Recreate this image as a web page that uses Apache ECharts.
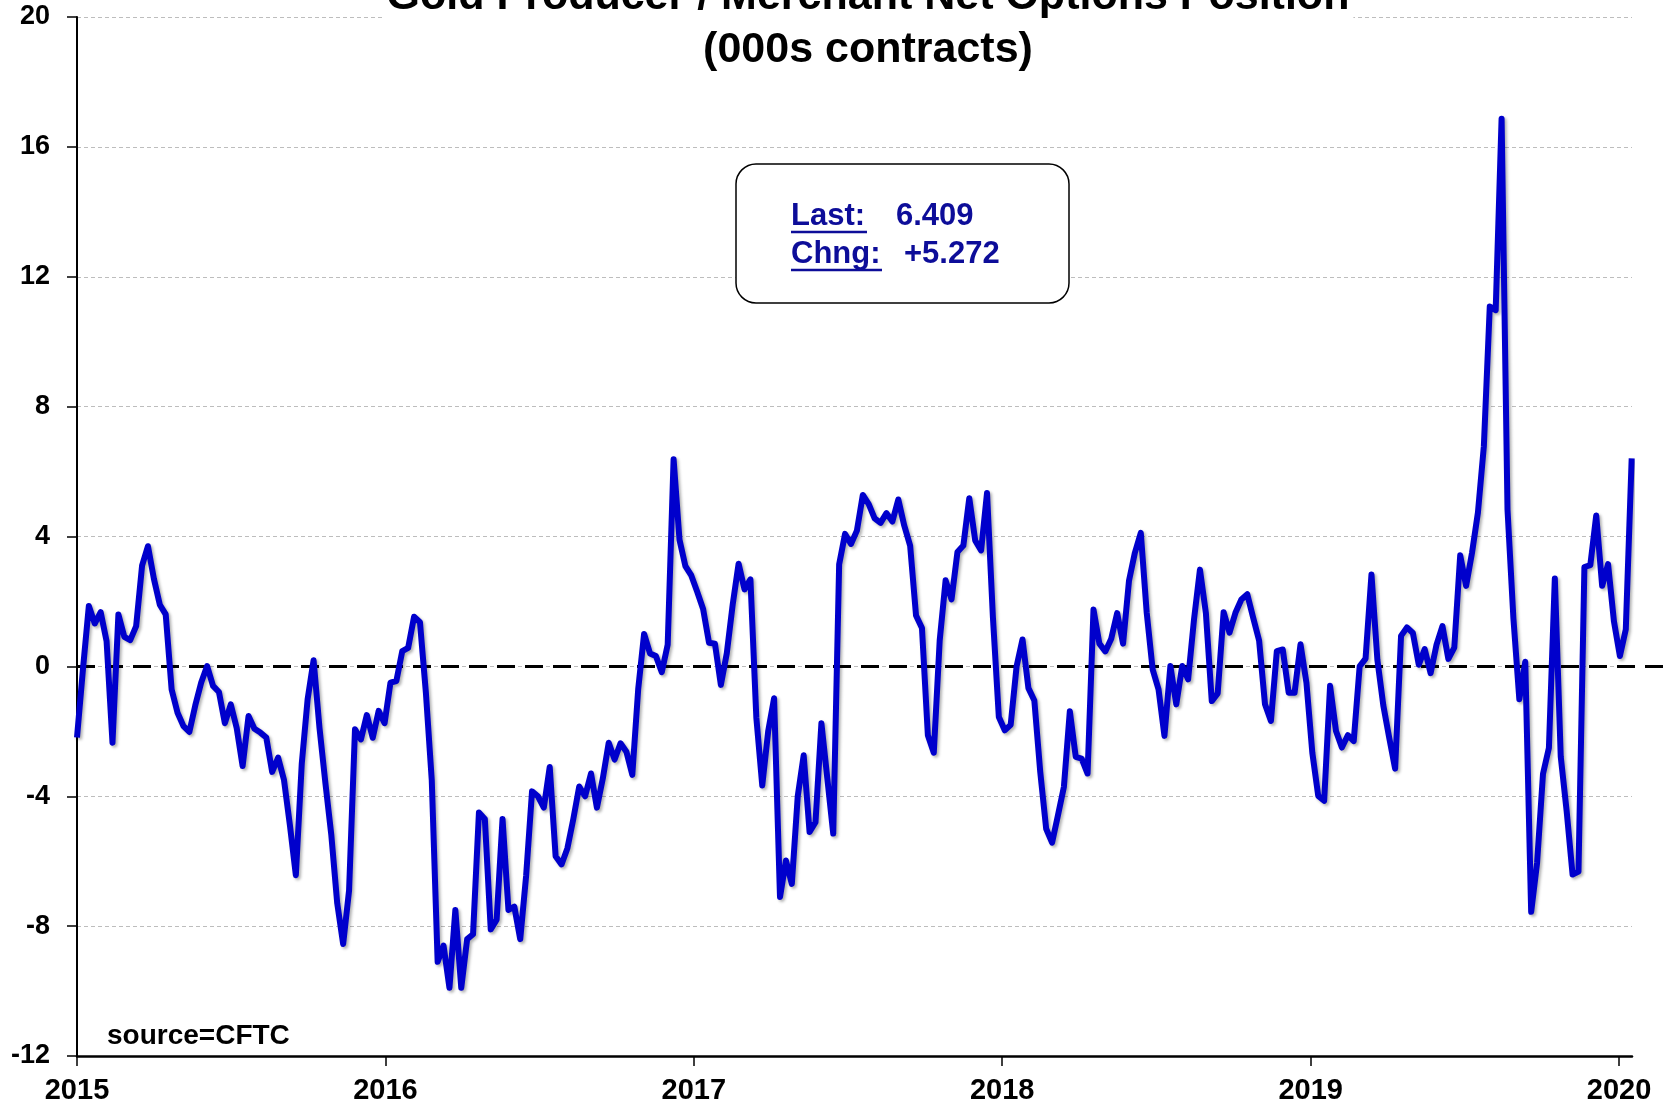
<!DOCTYPE html>
<html>
<head>
<meta charset="utf-8">
<script src="https://cdn.jsdelivr.net/npm/echarts@6/dist/echarts.min.js"></script>
<style>
  html, body { margin: 0; padding: 0; background: #fff; }
  #chart { width: 1675px; height: 1106px; }
</style>
</head>
<body>
<div id="chart"></div>
<script>
// ---- data (weekly, 000s contracts) ----
const firstWeek = '2015-01-01';
const netOptions = [
  -2.19,-0.1,1.86,1.32,1.67,0.78,-2.35,1.6,0.91,0.81,
  1.24,3.1,3.7,2.7,1.9,1.6,-0.71,-1.43,-1.84,-2.02,
  -1.2,-0.5,0.01,-0.6,-0.79,-1.75,-1.17,-1.9,-3.07,-1.53,
  -1.92,-2.04,-2.19,-3.25,-2.81,-3.5,-4.9,-6.43,-3.0,-1.0,
  0.19,-1.9,-3.6,-5.2,-7.3,-8.55,-6.9,-1.94,-2.25,-1.5,
  -2.2,-1.37,-1.75,-0.5,-0.45,0.47,0.57,1.53,1.36,-0.8,
  -3.5,-9.1,-8.6,-9.9,-7.5,-9.9,-8.4,-8.25,-4.5,-4.7,
  -8.1,-7.8,-4.7,-7.5,-7.4,-8.4,-6.45,-3.85,-4.0,-4.35,
  -3.1,-5.85,-6.1,-5.6,-4.7,-3.7,-4.0,-3.3,-4.35,-3.45,
  -2.35,-2.87,-2.37,-2.63,-3.34,-0.7,1.0,0.4,0.32,-0.18,
  0.67,6.38,3.9,3.09,2.8,2.3,1.77,0.73,0.7,-0.57,
  0.4,1.9,3.16,2.37,2.68,-1.58,-3.67,-2.0,-0.98,-7.1,
  -5.98,-6.7,-4.0,-2.74,-5.1,-4.8,-1.75,-3.45,-5.15,3.14,
  4.08,3.77,4.18,5.28,5.0,4.56,4.42,4.72,4.46,5.14,
  4.34,3.72,1.57,1.18,-2.12,-2.66,0.8,2.65,2.06,3.52,
  3.72,5.18,3.88,3.57,5.34,1.5,-1.56,-1.97,-1.8,0.0,
  0.83,-0.67,-1.05,-3.25,-5.0,-5.43,-4.58,-3.71,-1.38,-2.79,
  -2.84,-3.3,1.75,0.7,0.46,0.85,1.64,0.7,2.63,3.5,
  4.11,1.65,-0.09,-0.71,-2.14,0.01,-1.17,0.01,-0.4,1.45,
  2.98,1.65,-1.07,-0.83,1.67,1.04,1.65,2.06,2.22,1.5,
  0.8,-1.17,-1.68,0.47,0.52,-0.81,-0.81,0.68,-0.5,-2.66,
  -3.99,-4.14,-0.6,-1.99,-2.5,-2.12,-2.3,0.0,0.24,2.83,
  0.2,-1.2,-2.2,-3.15,0.94,1.2,1.03,0.05,0.53,-0.21,
  0.67,1.24,0.23,0.58,3.42,2.48,3.5,4.74,6.78,11.08,
  10.97,16.87,4.83,1.47,-1.01,0.14,-7.56,-6.05,-3.31,-2.51,
  2.71,-2.78,-4.46,-6.41,-6.32,3.06,3.12,4.65,2.48,3.15,
  1.38,0.32,1.137,6.409
];
const yearTicks = [2015, 2016, 2017, 2018, 2019, 2020];
const yTicks = { min: -12, max: 20, step: 4 };
const zeroLine = [[0, 0], [1, 0]];

// weekly dates -> decimal years
const DAY = 86400000;
const t0 = Date.parse(firstWeek + 'T00:00:00Z');
const weekDates = netOptions.map((_, i) => t0 + i * 7 * DAY);
const toYear = t => {
  const d = new Date(t);
  const y = d.getUTCFullYear();
  const ys = Date.UTC(y, 0, 1), ye = Date.UTC(y + 1, 0, 1);
  return y + (t - ys) / (ye - ys);
};
const seriesData = weekDates.map((t, i) => [toYear(t), netOptions[i]]);

const lastVal = netOptions[netOptions.length - 1];
const chngVal = lastVal - netOptions[netOptions.length - 2];
const lastTxt = lastVal.toFixed(3);
const chngTxt = (chngVal >= 0 ? '+' : '') + chngVal.toFixed(3);

const FONT = '"Liberation Sans", Arial, Helvetica, sans-serif';
const NAVY = '#0d0d99';

const chart = echarts.init(document.getElementById('chart'), null, { renderer: 'canvas' });
chart.setOption({
  animation: false,
  backgroundColor: '#fff',
  grid: [
    { left: 77, right: 43, top: 17, bottom: 50 },
    { left: 77, right: 8, top: 17, bottom: 50 }
  ],
  xAxis: [
    {
      type: 'value', gridIndex: 0,
      min: 2015, max: 2020.042, interval: 1,
      axisLine: { show: true, onZero: false, lineStyle: { color: '#000', width: 2.5 } },
      axisTick: { show: true, inside: false, length: 10, lineStyle: { color: '#000', width: 1.5 }, customValues: yearTicks },
      axisLabel: {
        show: true, margin: 20, color: '#000', fontSize: 29, fontWeight: 'bold', fontFamily: FONT,
        customValues: yearTicks,
        formatter: v => (Math.abs(v - Math.round(v)) < 1e-6 ? String(Math.round(v)) : '')
      },
      splitLine: { show: false }
    },
    { type: 'value', gridIndex: 1, min: 0, max: 1, show: false }
  ],
  yAxis: [
    {
      type: 'value', gridIndex: 0,
      min: yTicks.min, max: yTicks.max, interval: yTicks.step,
      axisLine: { show: true, onZero: false, lineStyle: { color: '#000', width: 2 } },
      axisTick: { show: true, length: 10, lineStyle: { color: '#000', width: 1.5 } },
      axisLabel: { margin: 27, color: '#000', fontSize: 27, fontWeight: 'bold', fontFamily: FONT },
      splitLine: { show: true, lineStyle: { color: '#bdbdbd', width: 1, type: [4, 3] } }
    },
    { type: 'value', gridIndex: 1, min: yTicks.min, max: yTicks.max, show: false }
  ],
  series: [
    {
      type: 'line', xAxisIndex: 1, yAxisIndex: 1,
      data: zeroLine, showSymbol: false, silent: true, z: 3,
      lineStyle: { color: '#000', width: 3, type: [18, 10] }
    },
    {
      type: 'line', xAxisIndex: 0, yAxisIndex: 0,
      data: seriesData, showSymbol: false, clip: false, z: 5,
      lineStyle: {
        color: '#0000cc', width: 6, join: 'round',
        shadowColor: 'rgba(0,0,0,0.3)', shadowBlur: 3, shadowOffsetX: 2, shadowOffsetY: 2
      }
    }
  ],
  graphic: [
    {
      type: 'text', x: 868, y: -3, z: 100,
      style: {
        text: 'Gold Producer / Merchant Net Options Position',
        fill: '#000', font: 'bold 43px ' + FONT,
        textAlign: 'center', textVerticalAlign: 'middle', align: 'center', verticalAlign: 'middle',
        backgroundColor: '#fff', padding: [4, 4]
      }
    },
    {
      type: 'text', x: 868, y: 50, z: 100,
      style: {
        text: '(000s contracts)',
        fill: '#000', font: 'bold 43px ' + FONT,
        textAlign: 'center', textVerticalAlign: 'middle', align: 'center', verticalAlign: 'middle',
        backgroundColor: '#fff', padding: [2, 6]
      }
    },
    {
      type: 'rect', z: 100,
      shape: { x: 736, y: 164, width: 333, height: 139, r: 20 },
      style: { fill: '#fff', stroke: '#000', lineWidth: 1.5 }
    },
    {
      type: 'text', x: 791, y: 216, z: 101,
      style: { text: 'Last:', fill: NAVY, font: 'bold 31px ' + FONT, textVerticalAlign: 'middle', verticalAlign: 'middle' }
    },
    {
      type: 'text', x: 896, y: 216, z: 101,
      style: { text: lastTxt, fill: NAVY, font: 'bold 31px ' + FONT, textVerticalAlign: 'middle', verticalAlign: 'middle' }
    },
    {
      type: 'text', x: 791, y: 254, z: 101,
      style: { text: 'Chng:', fill: NAVY, font: 'bold 31px ' + FONT, textVerticalAlign: 'middle', verticalAlign: 'middle' }
    },
    {
      type: 'text', x: 904, y: 254, z: 101,
      style: { text: chngTxt, fill: NAVY, font: 'bold 31px ' + FONT, textVerticalAlign: 'middle', verticalAlign: 'middle' }
    },
    {
      type: 'line', z: 101,
      shape: { x1: 791, y1: 232, x2: 867, y2: 232 },
      style: { stroke: NAVY, lineWidth: 2.5 }
    },
    {
      type: 'line', z: 101,
      shape: { x1: 791, y1: 270, x2: 882, y2: 270 },
      style: { stroke: NAVY, lineWidth: 2.5 }
    },
    {
      type: 'text', x: 107, y: 1036, z: 100,
      style: { text: 'source=CFTC', fill: '#000', font: 'bold 28px ' + FONT, textVerticalAlign: 'middle', verticalAlign: 'middle' }
    }
  ]
});
</script>
</body>
</html>
